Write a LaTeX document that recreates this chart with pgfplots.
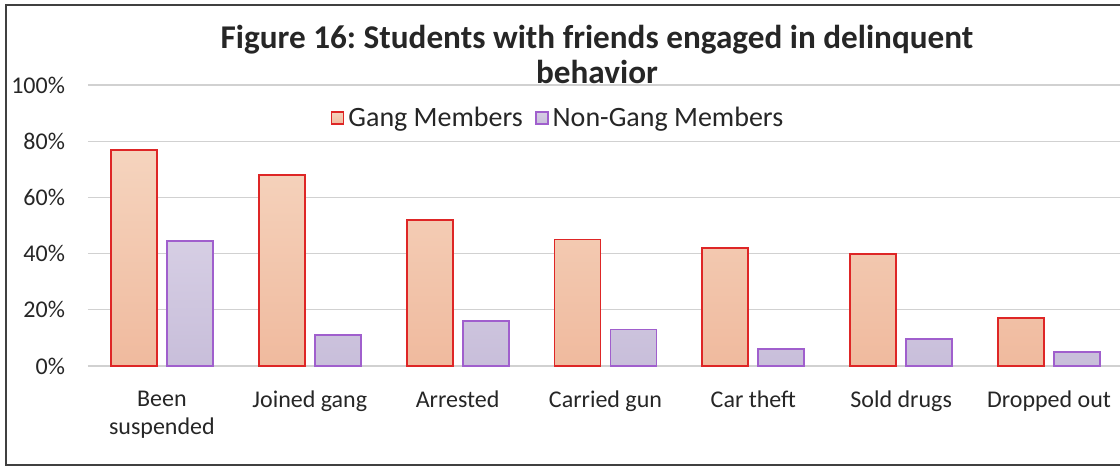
\documentclass[border=0pt]{standalone}
\usepackage{fontspec}
\setmainfont{Carlito}
\usepackage{pgfplots}
\pgfplotsset{compat=1.18}
\definecolor{gangedge}{RGB}{222,38,38}
\definecolor{gangtop}{RGB}{245,212,190}
\definecolor{gangbot}{RGB}{240,186,158}
\definecolor{nonedge}{RGB}{160,95,205}
\definecolor{nontop}{RGB}{214,206,228}
\definecolor{nonbot}{RGB}{200,190,218}
\frenchspacing
\begin{document}
\begin{tikzpicture}
\useasboundingbox (0,0) rectangle (560pt,234pt);
\draw[black!75, line width=0.8pt] (562pt,231.5pt) -- (3pt,231.5pt) -- (3pt,1.5pt) -- (562pt,1.5pt);
\node[align=center, font=\bfseries\fontsize{16.6}{17.5}\selectfont, text=black!85] at (298.5pt,206.75pt)
  {Figure 16: Students with friends engaged in delinquent\\behavior};
\begin{axis}[
  at={(44pt,51pt)}, anchor=south west,
  scale only axis, width=517.5pt, height=140.5pt,
  ybar=5pt, bar width=23pt,
  xmin=-0.5, xmax=6.5, ymin=0, ymax=100,
  xtick=data,
  xticklabels={{Been\\suspended},{Joined gang},{Arrested},{Carried gun},{Car theft},{Sold drugs},{Dropped out}},
  xticklabel style={align=center, font=\fontsize{12}{14}\selectfont, text=black!85, yshift=-9pt},
  ytick={0,20,...,100},
  /pgf/number format/assume math mode=true,
  yticklabel={\pgfmathprintnumber{\tick}\%},
  yticklabel style={font=\fontsize{12}{14}\selectfont, text=black!85, xshift=-8pt},
  ymajorgrids, grid style={black!18, line width=0.6pt},
  axis line style={draw=none}, major tick length=0pt,
  legend style={at={(0.455,0.883)}, anchor=center, draw=none, fill=white,
    legend columns=2, font=\fontsize{14}{16}\selectfont, text=black!85,
    /tikz/every even column/.append style={column sep=4pt}},
  legend image code/.code={\draw[#1] (0pt,-3pt) rectangle (6pt,3pt);},
]
\addplot[draw=gangedge, line width=0.9pt, top color=gangtop, bottom color=gangbot]
  coordinates {(0,77) (1,68) (2,52) (3,45) (4,42) (5,40) (6,17)};
\addplot[draw=nonedge, line width=0.9pt, top color=nontop, bottom color=nonbot]
  coordinates {(0,44.5) (1,11) (2,16) (3,13) (4,6) (5,9.5) (6,5)};
\legend{Gang Members, Non-Gang Members}
\end{axis}
\end{tikzpicture}
\end{document}
